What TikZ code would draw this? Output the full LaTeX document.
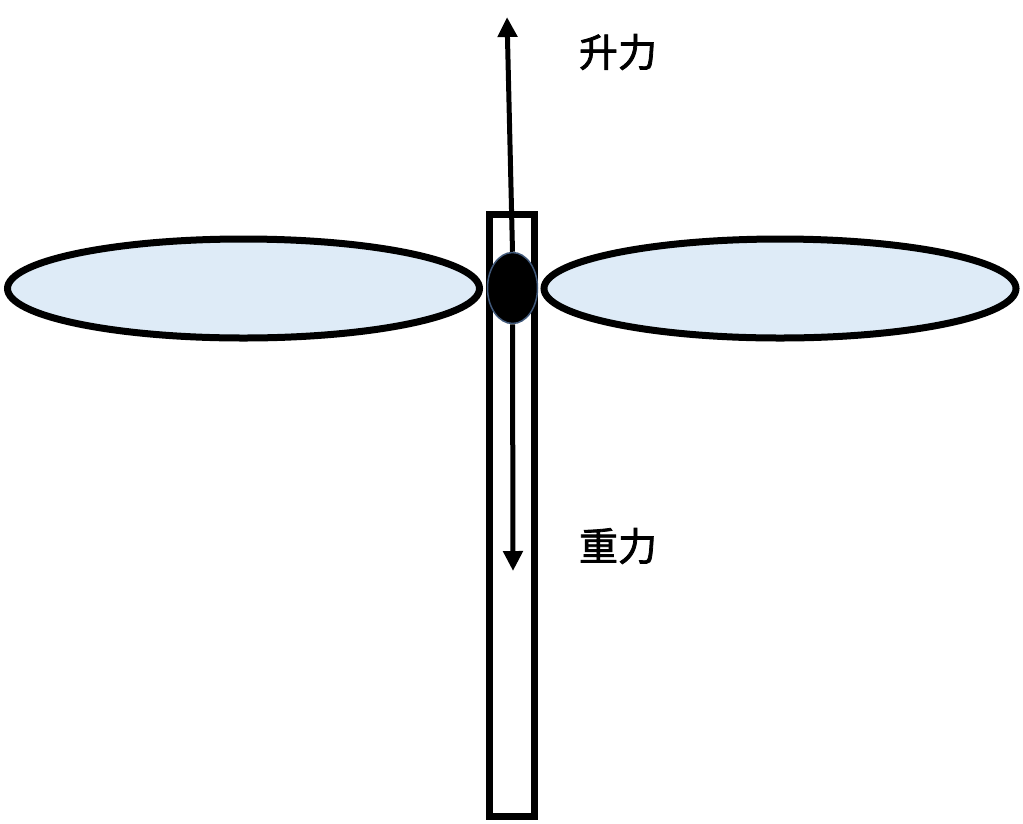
\documentclass[tikz,border=0pt]{standalone}
\usepackage{fontspec}
\newfontfamily\cjk[FakeBold=2]{Noto Sans CJK SC}
\usetikzlibrary{shapes.geometric,arrows.meta}
\definecolor{wingblue}{HTML}{DEEBF7}
\definecolor{dotedge}{HTML}{41597A}
\begin{document}
\begin{tikzpicture}[x=1pt,y=-1pt,
  wing/.style={ellipse, draw=black, line width=7pt, fill=wingblue, minimum width=472pt, minimum height=99pt, inner sep=0pt},
  stickbox/.style={draw=black, line width=7pt, minimum width=45pt, minimum height=602pt, inner sep=0pt},
  hub/.style={ellipse, fill=black, draw=dotedge, line width=1.5pt, minimum width=50pt, minimum height=71pt, inner sep=0pt},
  force/.style={line width=5pt, -{Triangle[length=20pt,width=19pt]}},
  label/.style={font=\cjk\fontsize{39}{39}\selectfont, inner sep=0pt}]
\useasboundingbox (0,0) rectangle (1023,823);
\node[stickbox] (stick) at (512,515.5) {};
\node[wing] (lwing) at (243.5,288.5) {};
\node[wing] (rwing) at (780,288.5) {};
\node[hub] (hub) at (512.5,288) {};
\coordinate (liftend) at (507,17);
\coordinate (gravend) at (513,571);
\draw[force] (hub.north) -- (liftend);
\draw[force] (hub.south) -- (gravend);
\node[label] (lift) at (618,52) {升力};
\node[label] (grav) at (618,546) {重力};
\end{tikzpicture}
\end{document}
